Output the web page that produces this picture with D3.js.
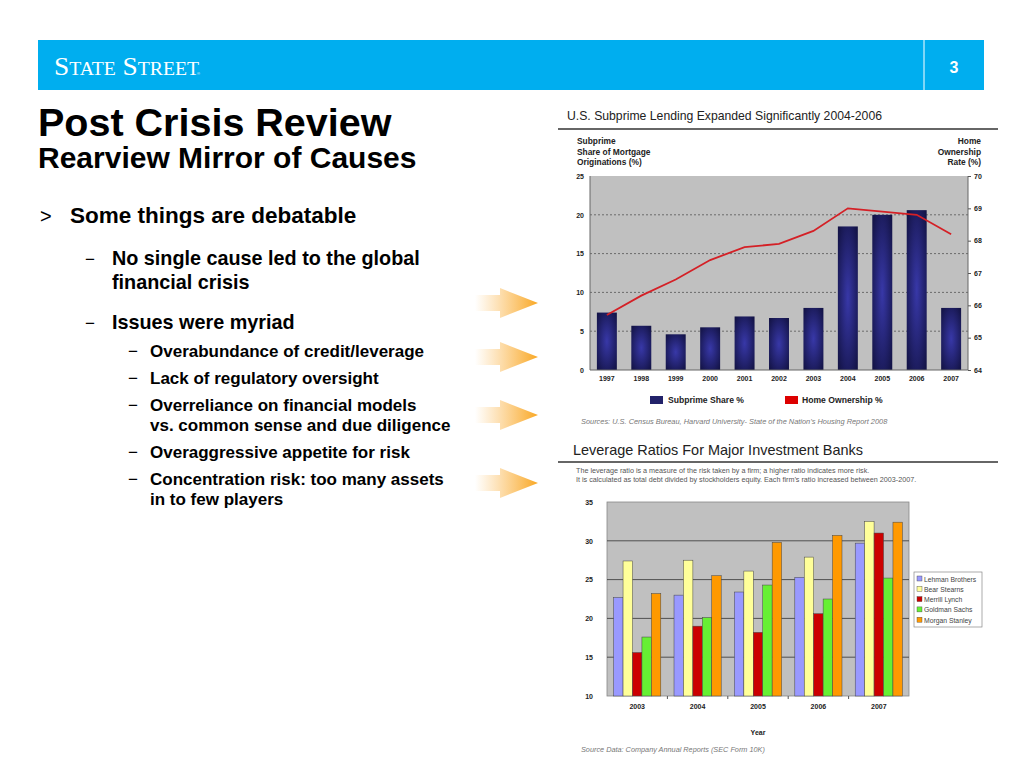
<!DOCTYPE html>
<meta charset="utf-8">
<script src="https://d3js.org/d3.v7.min.js"></script>
<style>
body { margin: 0; background: #fff; }
svg { font-family: "Liberation Sans", Arial, sans-serif; }
.bold { font-weight: bold; }
</style>
<body>
<script>
// ---- data: subprime chart
var years1 = ["1997","1998","1999","2000","2001","2002","2003","2004","2005","2006","2007"];
var subprimeShare = [7.4, 5.7, 4.6, 5.5, 6.9, 6.7, 8.0, 18.5, 20.0, 20.6, 8.0];
var homeOwnership = [65.7, 66.3, 66.8, 67.4, 67.8, 67.9, 68.3, 69.0, 68.9, 68.8, 68.2];
var leftTicks = [0, 5, 10, 15, 20, 25];
var rightTicks = [64, 65, 66, 67, 68, 69, 70];

// ---- data: leverage chart
var years2 = ["2003","2004","2005","2006","2007"];
var banks = ["Lehman Brothers","Bear Stearns","Merrill Lynch","Goldman Sachs","Morgan Stanley"];
var bankColors = ["#9999ff","#ffff99","#cc0000","#66f033","#ff9900"];
var lehman  = [22.7, 23.0, 23.4, 25.3, 29.7];
var bear    = [27.4, 27.5, 26.1, 27.9, 32.5];
var merrill = [15.6, 19.0, 18.2, 20.6, 31.0];
var goldman = [17.6, 20.1, 24.3, 22.5, 25.2];
var morgan  = [23.2, 25.5, 29.8, 30.7, 32.4];
var levTicks = [10, 15, 20, 25, 30, 35];

var bullets = [
  {lvl:0, y:223, t:"Some things are debatable"},
  {lvl:1, y:265, t:"No single cause led to the global"},
  {lvl:1, y:289, t:"financial crisis", cont:true},
  {lvl:1, y:329, t:"Issues were myriad"},
  {lvl:2, y:357, t:"Overabundance of credit/leverage"},
  {lvl:2, y:384, t:"Lack of regulatory oversight"},
  {lvl:2, y:411, t:"Overreliance on financial models"},
  {lvl:2, y:431, t:"vs. common sense and due diligence", cont:true},
  {lvl:2, y:458, t:"Overaggressive appetite for risk"},
  {lvl:2, y:485, t:"Concentration risk: too many assets"},
  {lvl:2, y:505, t:"in to few players", cont:true}
];
var arrowY = [303, 357, 415, 483];

var svg = d3.select("body").append("svg")
    .attr("width", 1024).attr("height", 768);
var defs = svg.append("defs");

var rg = defs.append("radialGradient").attr("id","navy")
    .attr("cx","50%").attr("cy","50%").attr("r","65%");
rg.append("stop").attr("offset","0%").attr("stop-color","#3838a8");
rg.append("stop").attr("offset","100%").attr("stop-color","#141448");

var ag = defs.append("linearGradient").attr("id","arrowGrad")
    .attr("x1","0%").attr("x2","100%");
ag.append("stop").attr("offset","0%").attr("stop-color","#fbb040").attr("stop-opacity",0);
ag.append("stop").attr("offset","100%").attr("stop-color","#f9a825").attr("stop-opacity",1);

// ---- header banner
svg.append("rect").attr("x",38).attr("y",40).attr("width",946).attr("height",50)
    .attr("fill","#00aeef");
svg.append("line").attr("x1",924).attr("x2",924).attr("y1",40).attr("y2",90)
    .attr("stroke","#fff").attr("stroke-width",1);
svg.append("text").attr("x",954).attr("y",73).attr("text-anchor","middle")
    .attr("fill","#fff").attr("class","bold").style("font-size","16px").text("3");
svg.append("text").attr("x",54).attr("y",75)
    .attr("fill","#fff").style("font-family","'Liberation Serif', 'DejaVu Serif', serif")
    .style("font-size","25px").style("font-variant","small-caps")
    .attr("textLength",145).attr("lengthAdjust","spacingAndGlyphs")
    .text("State Street");
svg.append("text").attr("x",197).attr("y",75).attr("fill","#fff")
    .style("font-size","4px").text("®");

// ---- title
svg.append("text").attr("x",38).attr("y",136).attr("class","bold")
    .style("font-size","39.5px").text("Post Crisis Review");
svg.append("text").attr("x",38).attr("y",168).attr("class","bold")
    .style("font-size","30px").text("Rearview Mirror of Causes");

// ---- bullets
var bx = [70, 112, 150], dx = [40, 85, 128], fs = [22.5, 19.8, 17];
bullets.forEach(function(b){
  if (!b.cont) {
    svg.append("text").attr("x",dx[b.lvl]).attr("y",b.y)
      .style("font-size", (b.lvl == 0 ? 20 : 17) + "px")
      .text(b.lvl == 0 ? ">" : "\u2212");
  }
  svg.append("text").attr("x",bx[b.lvl]).attr("y",b.y).attr("class","bold")
    .style("font-size", fs[b.lvl] + "px").text(b.t);
});

// ---- arrows
arrowY.forEach(function(cy){
  svg.append("path")
    .attr("d", "M475," + (cy-8) + "H500V" + (cy-15) + "L538," + cy + "L500," + (cy+15) + "V" + (cy+8) + "H475Z")
    .attr("fill","url(#arrowGrad)");
});

// =========== Chart 1: subprime ===========
svg.append("text").attr("x",567).attr("y",120).attr("fill","#222")
    .style("font-size","13px").attr("textLength",315).attr("lengthAdjust","spacingAndGlyphs")
    .text("U.S. Subprime Lending Expanded Significantly 2004-2006");
svg.append("line").attr("x1",558).attr("x2",998).attr("y1",129).attr("y2",129)
    .attr("stroke","#333").attr("stroke-width",1.5);

["Subprime","Share of Mortgage","Originations (%)"].forEach(function(t,i){
  svg.append("text").attr("x",577).attr("y",144 + i*10.5).attr("class","bold")
    .style("font-size","8.4px").attr("fill","#222").text(t);
});
["Home","Ownership","Rate (%)"].forEach(function(t,i){
  svg.append("text").attr("x",981).attr("y",144 + i*10.5).attr("class","bold")
    .attr("text-anchor","end").style("font-size","8.4px").attr("fill","#222").text(t);
});

var x1 = d3.scaleBand().domain(years1).range([590, 968]).paddingInner(0.42).paddingOuter(0.2);
var yL = d3.scaleLinear().domain([0, 25]).range([370, 176]);
var yR = d3.scaleLinear().domain([64, 70]).range([370, 176]);

svg.append("rect").attr("x",590).attr("y",176).attr("width",378).attr("height",194)
    .attr("fill","#c0c0c0");
svg.selectAll(".grid1").data(leftTicks.slice(1, -1)).enter().append("line")
    .attr("x1",590).attr("x2",968).attr("y1",function(d){ return yL(d); }).attr("y2",function(d){ return yL(d); })
    .attr("stroke","#555").attr("stroke-dasharray","2,2").attr("stroke-width",0.8);

svg.selectAll(".bar1").data(subprimeShare).enter().append("rect")
    .attr("x", function(d,i){ return x1(years1[i]); })
    .attr("y", function(d){ return yL(d); })
    .attr("width", x1.bandwidth())
    .attr("height", function(d){ return yL(0) - yL(d); })
    .attr("fill","url(#navy)");

svg.append("line").attr("x1",590).attr("x2",590).attr("y1",176).attr("y2",370).attr("stroke","#666");
svg.append("line").attr("x1",968).attr("x2",968).attr("y1",176).attr("y2",370).attr("stroke","#666");
svg.append("line").attr("x1",590).attr("x2",968).attr("y1",370).attr("y2",370).attr("stroke","#666");

var line1 = d3.line()
    .x(function(d,i){ return x1(years1[i]) + x1.bandwidth()/2; })
    .y(function(d){ return yR(d); });
svg.append("path").datum(homeOwnership).attr("d", line1)
    .attr("fill","none").attr("stroke","#d42026").attr("stroke-width",1.8);

var axL = svg.append("g").attr("transform","translate(590,0)")
    .call(d3.axisLeft(yL).tickValues(leftTicks).tickSize(0).tickPadding(6));
var axR = svg.append("g").attr("transform","translate(968,0)")
    .call(d3.axisRight(yR).tickValues(rightTicks).tickFormat(d3.format("d")).tickSize(3).tickPadding(3));
var axB = svg.append("g").attr("transform","translate(0,370)")
    .call(d3.axisBottom(x1).tickSize(0).tickPadding(6));
[axL, axR, axB].forEach(function(g){
  g.select(".domain").remove();
  g.selectAll("text").attr("class","bold").style("font-size","7px").attr("fill","#222")
    .style("font-family","'Liberation Sans', Arial, sans-serif");
  g.selectAll("line").attr("stroke","#555");
});

svg.append("rect").attr("x",650).attr("y",396).attr("width",13).attr("height",8).attr("fill","#22226a");
svg.append("text").attr("x",668).attr("y",403).attr("class","bold").style("font-size","8.6px")
    .attr("fill","#222").text("Subprime Share %");
svg.append("rect").attr("x",785).attr("y",396).attr("width",13).attr("height",8).attr("fill","#dd0000");
svg.append("text").attr("x",802).attr("y",403).attr("class","bold").style("font-size","8.6px")
    .attr("fill","#222").text("Home Ownership %");
svg.append("text").attr("x",581).attr("y",424).style("font-size","7.4px").style("font-style","italic")
    .attr("fill","#777").text("Sources:  U.S. Census Bureau, Harvard University- State of the Nation\u2019s Housing Report 2008");

// =========== Chart 2: leverage ===========
svg.append("text").attr("x",573).attr("y",455).attr("fill","#222")
    .style("font-size","14.5px").attr("textLength",290).attr("lengthAdjust","spacingAndGlyphs")
    .text("Leverage Ratios For Major Investment Banks");
svg.append("line").attr("x1",558).attr("x2",998).attr("y1",462).attr("y2",462)
    .attr("stroke","#333").attr("stroke-width",1.5);
svg.append("text").attr("x",576).attr("y",473).style("font-size","7.2px").attr("fill","#555")
    .text("The leverage ratio is a measure of the risk taken by a firm; a higher ratio indicates more risk.");
svg.append("text").attr("x",576).attr("y",482).style("font-size","7.2px").attr("fill","#555")
    .text("It is calculated as total debt divided by stockholders equity. Each firm\u2019s ratio increased between 2003-2007.");

var x2 = d3.scaleBand().domain(years2).range([607, 909]);
var xs = d3.scaleBand().domain(banks).range([0, x2.bandwidth()]).paddingOuter(0.7);
var y2 = d3.scaleLinear().domain([10, 35]).range([696, 502]);
var series = [lehman, bear, merrill, goldman, morgan];

svg.append("rect").attr("x",607).attr("y",502).attr("width",302).attr("height",194)
    .attr("fill","#c0c0c0").attr("stroke","#888").attr("stroke-width",0.8);
svg.selectAll(".grid2").data(levTicks.slice(1, -1)).enter().append("line")
    .attr("x1",607).attr("x2",909).attr("y1",function(d){ return y2(d); }).attr("y2",function(d){ return y2(d); })
    .attr("stroke","#333").attr("stroke-width",0.8);

series.forEach(function(vals, s){
  svg.selectAll(".bs" + s).data(vals).enter().append("rect")
    .attr("x", function(d,i){ return x2(years2[i]) + xs(banks[s]); })
    .attr("y", function(d){ return y2(d); })
    .attr("width", xs.bandwidth())
    .attr("height", function(d){ return y2(10) - y2(d); })
    .attr("fill", bankColors[s]).attr("stroke","#444").attr("stroke-width",0.5);
});

var ax2L = svg.append("g").attr("transform","translate(607,0)")
    .call(d3.axisLeft(y2).tickValues(levTicks).tickSize(0).tickPadding(14));
var ax2B = svg.append("g").attr("transform","translate(0,696)")
    .call(d3.axisBottom(x2).tickSize(0).tickPadding(8));
[ax2L, ax2B].forEach(function(g){
  g.select(".domain").remove();
  g.selectAll("text").attr("class","bold").style("font-size","7px").attr("fill","#222")
    .style("font-family","'Liberation Sans', Arial, sans-serif");
});
svg.selectAll(".xt2").data(years2.slice(1)).enter().append("line")
    .attr("x1", function(d){ return x2(d); }).attr("x2", function(d){ return x2(d); })
    .attr("y1",696).attr("y2",699).attr("stroke","#555");
svg.append("text").attr("x",758).attr("y",735).attr("text-anchor","middle").attr("class","bold")
    .style("font-size","7px").attr("fill","#222").text("Year");

var lg = svg.append("g").attr("transform","translate(914,572)");
lg.append("rect").attr("width",68).attr("height",55).attr("fill","#fff").attr("stroke","#888").attr("stroke-width",0.7);
banks.forEach(function(b, i){
  lg.append("rect").attr("x",3).attr("y",4 + i*10.3).attr("width",5).attr("height",5)
    .attr("fill", bankColors[i]).attr("stroke","#444").attr("stroke-width",0.4);
  lg.append("text").attr("x",10).attr("y",9.5 + i*10.3).style("font-size","6.8px").attr("fill","#444").text(b);
});

svg.append("text").attr("x",581).attr("y",752).style("font-size","7.3px").style("font-style","italic")
    .attr("fill","#777").text("Source Data:  Company Annual Reports (SEC Form 10K)");
</script>
</body>
</html>
